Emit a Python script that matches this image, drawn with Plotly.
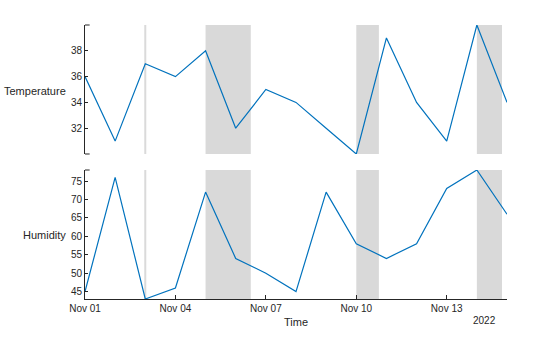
import plotly.graph_objects as go

dates = ["2022-11-%02d" % d for d in range(1, 16)]
temperature = [36, 31, 37, 36, 38, 32, 35, 34, 32, 30, 39, 34, 31, 40, 34]
humidity = [45, 76, 43, 46, 72, 54, 50, 45, 72, 58, 54, 58, 73, 78, 66]

regions = [("2022-11-05 00:00", "2022-11-06 12:00"),
           ("2022-11-10 00:00", "2022-11-10 18:00"),
           ("2022-11-14 00:00", "2022-11-14 20:00")]
event_line = "2022-11-03 00:00"

temp_ticks = [32, 34, 36, 38]
hum_ticks = [45, 50, 55, 60, 65, 70, 75]
x_ticks = ["2022-11-01", "2022-11-04", "2022-11-07", "2022-11-10", "2022-11-13"]
x_ticktext = ["Nov 01", "Nov 04", "Nov 07", "Nov 10", "Nov 13"]

LINE = "#0072BD"
SHADE = "#d9d9d9"
AX = "#262626"
FONT = "Liberation Sans, Arial, sans-serif"

fig = go.Figure()
fig.add_trace(go.Scatter(x=dates, y=temperature, mode="lines", xaxis="x2", yaxis="y2",
                         line=dict(color=LINE, width=1.2), showlegend=False))
fig.add_trace(go.Scatter(x=dates, y=humidity, mode="lines", xaxis="x", yaxis="y",
                         line=dict(color=LINE, width=1.2), showlegend=False))

shapes = []
for yr in ["y", "y2"]:
    xr = "x" if yr == "y" else "x2"
    for a, b in regions:
        shapes.append(dict(type="rect", xref=xr, yref=yr + " domain", x0=a, x1=b, y0=0, y1=1,
                           fillcolor=SHADE, line=dict(width=0), layer="below"))
    shapes.append(dict(type="line", xref=xr, yref=yr + " domain", x0=event_line, x1=event_line,
                       y0=0, y1=1, line=dict(color="#dadada", width=2), layer="below"))
    # axis end caps
    ends = [1] if yr == "y" else [0, 1]
    for e in ends:
        shapes.append(dict(type="line", xref=xr + " domain", yref=yr + " domain",
                           x0=0, x1=0.011, y0=e, y1=e, line=dict(color=AX, width=1)))

xrange_ = ["2022-11-01", "2022-11-15"]
fig.update_layout(
    width=560, height=337,
    margin=dict(l=85, r=53, t=25, b=38, autoexpand=False),
    paper_bgcolor="white", plot_bgcolor="white",
    font=dict(family=FONT, size=10, color=AX),
    shapes=shapes,
    xaxis=dict(domain=[0, 1], anchor="y", range=xrange_, tickvals=x_ticks, ticktext=x_ticktext,
               ticks="inside", ticklen=4, tickcolor=AX, showline=True, linecolor=AX, linewidth=1,
               showgrid=False, zeroline=False, tickfont=dict(size=10), automargin=False),
    xaxis2=dict(domain=[0, 1], anchor="y2", matches="x", range=xrange_, visible=False),
    yaxis=dict(domain=[0, 0.4708], anchor="x", range=[43, 78], tickvals=hum_ticks,
               ticks="inside", ticklen=3, tickcolor=AX, showline=True, linecolor=AX, linewidth=1,
               showgrid=False, zeroline=False, tickfont=dict(size=10), automargin=False),
    yaxis2=dict(domain=[0.5292, 1], anchor="x2", range=[30, 40], tickvals=temp_ticks,
                ticks="inside", ticklen=3, tickcolor=AX, showline=True, linecolor=AX, linewidth=1,
                showgrid=False, zeroline=False, tickfont=dict(size=10), automargin=False),
    annotations=[
        dict(text="Temperature", xref="paper", yref="y2 domain", x=-0.04, y=0.485,
             xanchor="right", yanchor="middle", showarrow=False, font=dict(size=11)),
        dict(text="Humidity", xref="paper", yref="y domain", x=-0.04, y=0.5,
             xanchor="right", yanchor="middle", showarrow=False, font=dict(size=11)),
        dict(text="Time", xref="paper", yref="paper", x=0.5, y=-0.084,
             xanchor="center", yanchor="middle", showarrow=False, font=dict(size=11)),
        dict(text="2022", xref="paper", yref="paper", x=0.9787, y=-0.079,
             xanchor="right", yanchor="middle", showarrow=False, font=dict(size=10)),
    ],
)

fig.write_html("out.html")
